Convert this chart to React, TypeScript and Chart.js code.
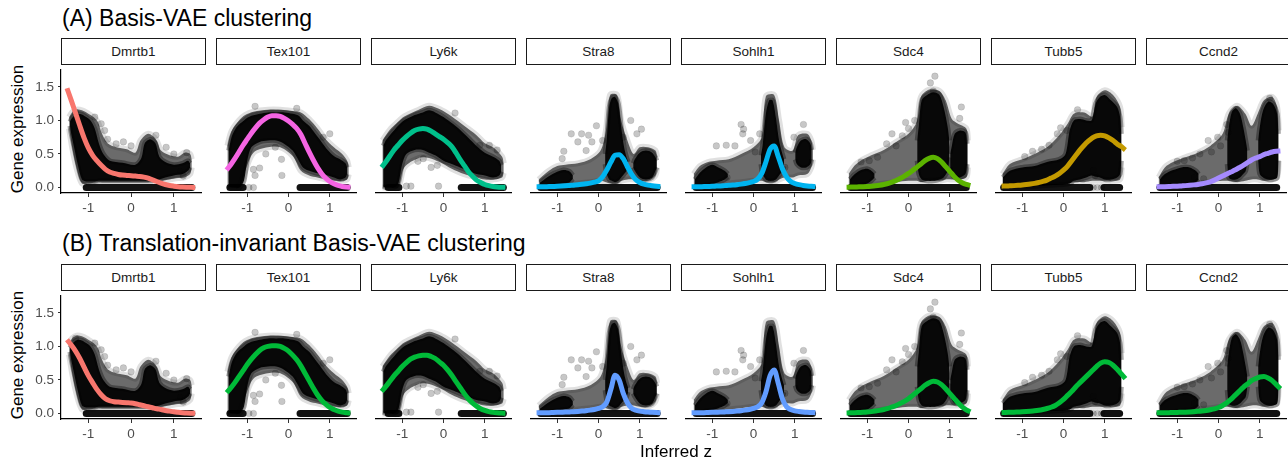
import React, { useEffect, useRef } from 'react';
import { Chart, registerables } from 'chart.js';
Chart.register(...registerables);

type Band = [number, number, number][];
type Pts = [number, number][];

// ---------- shared axes ----------
const GENES = ['Dmrtb1', 'Tex101', 'Ly6k', 'Stra8', 'Sohlh1', 'Sdc4', 'Tubb5', 'Ccnd2'];
const ROW_TITLES = ['(A) Basis-VAE clustering', '(B) Translation-invariant Basis-VAE clustering'];
const X_TICKS = [-1, 0, 1];
const X_TICK_LABELS = ['-1', '0', '1'];
const Y_TICKS = [0, 0.5, 1, 1.5];
const Y_TICK_LABELS = ['0.0', '0.5', '1.0', '1.5'];
const X_TITLE = 'Inferred z';
const Y_TITLE = 'Gene expression';

const Z_GRID = [-1.5, -1.4, -1.3, -1.2, -1.1, -1.0, -0.9, -0.8, -0.7, -0.6, -0.5, -0.4, -0.3, -0.2, -0.1, 0, 0.1, 0.2, 0.3, 0.4, 0.5, 0.6, 0.7, 0.8, 0.9, 1.0, 1.1, 1.2, 1.3, 1.4, 1.5];

// ---------- fitted curves, row A ----------
const dmrtb1A = [1.48, 1.30, 1.11, 0.92, 0.74, 0.59, 0.48, 0.40, 0.33, 0.27, 0.23, 0.21, 0.195, 0.185, 0.18, 0.175, 0.17, 0.165, 0.155, 0.14, 0.115, 0.09, 0.065, 0.045, 0.03, 0.02, 0.012, 0.007, 0.004, 0.002, 0.001];
const tex101A = [0.26, 0.34, 0.43, 0.53, 0.63, 0.72, 0.81, 0.89, 0.96, 1.01, 1.05, 1.07, 1.07, 1.06, 1.03, 0.99, 0.94, 0.88, 0.79, 0.66, 0.53, 0.41, 0.30, 0.21, 0.14, 0.09, 0.055, 0.03, 0.015, 0.007, 0.003];
const ly6kA = [0.30, 0.38, 0.47, 0.56, 0.63, 0.70, 0.76, 0.81, 0.85, 0.87, 0.88, 0.87, 0.84, 0.80, 0.76, 0.72, 0.67, 0.61, 0.52, 0.42, 0.33, 0.24, 0.17, 0.11, 0.075, 0.045, 0.027, 0.015, 0.008, 0.004, 0.002];
const stra8A = [0.01, 0.01, 0.012, 0.014, 0.016, 0.018, 0.021, 0.025, 0.03, 0.035, 0.04, 0.047, 0.055, 0.065, 0.08, 0.10, 0.16, 0.26, 0.38, 0.48, 0.49, 0.43, 0.31, 0.20, 0.12, 0.075, 0.05, 0.035, 0.025, 0.018, 0.013];
const sohlh1A = [0.01, 0.01, 0.012, 0.014, 0.016, 0.018, 0.021, 0.024, 0.028, 0.032, 0.036, 0.042, 0.05, 0.06, 0.073, 0.09, 0.125, 0.21, 0.38, 0.57, 0.62, 0.46, 0.28, 0.16, 0.09, 0.06, 0.042, 0.031, 0.023, 0.017, 0.013];
const sdc4A = [0.005, 0.006, 0.008, 0.01, 0.012, 0.015, 0.02, 0.026, 0.034, 0.045, 0.06, 0.08, 0.105, 0.135, 0.17, 0.21, 0.255, 0.30, 0.35, 0.40, 0.435, 0.45, 0.43, 0.38, 0.31, 0.24, 0.17, 0.11, 0.07, 0.045, 0.03];
const tubb5A = [0.02, 0.022, 0.025, 0.028, 0.032, 0.037, 0.044, 0.052, 0.062, 0.075, 0.09, 0.11, 0.14, 0.17, 0.21, 0.26, 0.32, 0.40, 0.48, 0.56, 0.63, 0.69, 0.74, 0.77, 0.78, 0.77, 0.74, 0.70, 0.65, 0.61, 0.56];
const ccnd2A = [0.01, 0.011, 0.013, 0.015, 0.017, 0.02, 0.024, 0.028, 0.033, 0.039, 0.046, 0.055, 0.068, 0.085, 0.11, 0.14, 0.17, 0.20, 0.23, 0.26, 0.295, 0.33, 0.37, 0.41, 0.44, 0.46, 0.49, 0.51, 0.53, 0.54, 0.545];

// ---------- fitted curves, row B ----------
const dmrtb1B = [1.10, 1.02, 0.93, 0.82, 0.69, 0.565, 0.46, 0.36, 0.28, 0.22, 0.19, 0.175, 0.17, 0.165, 0.16, 0.155, 0.145, 0.13, 0.115, 0.10, 0.085, 0.07, 0.06, 0.045, 0.035, 0.025, 0.018, 0.012, 0.007, 0.004, 0.002];
const tex101B = [0.31, 0.38, 0.46, 0.55, 0.64, 0.73, 0.81, 0.88, 0.94, 0.98, 1.00, 1.01, 1.01, 1.00, 0.97, 0.93, 0.87, 0.80, 0.71, 0.60, 0.49, 0.38, 0.28, 0.20, 0.14, 0.09, 0.06, 0.035, 0.02, 0.012, 0.007];
const ly6kB = [0.33, 0.40, 0.48, 0.56, 0.63, 0.70, 0.76, 0.81, 0.84, 0.86, 0.87, 0.87, 0.85, 0.82, 0.77, 0.72, 0.65, 0.57, 0.48, 0.39, 0.30, 0.22, 0.16, 0.11, 0.07, 0.045, 0.028, 0.017, 0.01, 0.006, 0.004];
const stra8B = [0.01, 0.011, 0.012, 0.013, 0.015, 0.017, 0.019, 0.021, 0.024, 0.027, 0.031, 0.036, 0.042, 0.05, 0.06, 0.075, 0.10, 0.17, 0.36, 0.57, 0.50, 0.30, 0.16, 0.08, 0.05, 0.035, 0.027, 0.021, 0.017, 0.014, 0.012];
const sohlh1B = [0.01, 0.011, 0.012, 0.013, 0.015, 0.017, 0.019, 0.021, 0.024, 0.027, 0.031, 0.036, 0.042, 0.05, 0.06, 0.075, 0.10, 0.16, 0.32, 0.56, 0.65, 0.45, 0.22, 0.10, 0.06, 0.04, 0.03, 0.023, 0.018, 0.015, 0.012];
const sdc4B = [0.008, 0.01, 0.012, 0.015, 0.018, 0.022, 0.028, 0.036, 0.046, 0.06, 0.077, 0.098, 0.12, 0.15, 0.18, 0.22, 0.27, 0.32, 0.37, 0.42, 0.46, 0.48, 0.47, 0.43, 0.37, 0.30, 0.23, 0.16, 0.10, 0.055, 0.025];
const tubb5B = [0.015, 0.016, 0.018, 0.02, 0.023, 0.026, 0.03, 0.035, 0.041, 0.049, 0.06, 0.074, 0.093, 0.12, 0.16, 0.21, 0.27, 0.33, 0.40, 0.46, 0.52, 0.58, 0.64, 0.70, 0.75, 0.77, 0.76, 0.72, 0.66, 0.59, 0.52];
const ccnd2B = [0.01, 0.011, 0.012, 0.013, 0.014, 0.016, 0.018, 0.02, 0.023, 0.027, 0.032, 0.038, 0.046, 0.057, 0.07, 0.09, 0.12, 0.16, 0.21, 0.27, 0.33, 0.39, 0.44, 0.49, 0.52, 0.545, 0.55, 0.53, 0.49, 0.43, 0.37];

const COLORS_A = ['#F8766D', '#F564E3', '#00C08B', '#00B4F0', '#00B4F0', '#5BB300', '#C49A00', '#A58AFF'];
const COLORS_B = ['#F8766D', '#00BA38', '#00BA38', '#619CFF', '#619CFF', '#00BA38', '#00BA38', '#00BA38'];

// ---------- observed expression clouds: [z, lower, upper] envelopes ----------
const dmrtb1Outer: Band = [[-1.45, 0.88, 1.05], [-1.38, 0.6, 1.12], [-1.28, 0.3, 1.16], [-1.15, 0.06, 1.15], [-1.0, 0.06, 1.1], [-0.88, 0.07, 1.05], [-0.78, 0.08, 0.98], [-0.68, 0.08, 0.8], [-0.55, 0.08, 0.66], [-0.35, 0.08, 0.6], [-0.1, 0.08, 0.57], [0.1, 0.08, 0.52], [0.22, 0.08, 0.7], [0.4, 0.08, 0.8], [0.58, 0.1, 0.72], [0.7, 0.1, 0.55], [0.9, 0.12, 0.48], [1.1, 0.14, 0.46], [1.25, 0.15, 0.52], [1.38, 0.2, 0.5], [1.42, 0.3, 0.42]];
const dmrtb1Core: Band[] = [
  [[-1.43, 0.92, 0.98], [-1.4, 0.8, 1.02], [-1.35, 0.65, 1.06], [-1.25, 0.35, 1.1], [-1.15, 0.12, 1.09], [-1.05, 0.09, 1.05], [-0.95, 0.09, 1.0], [-0.85, 0.09, 0.88], [-0.75, 0.1, 0.65], [-0.65, 0.1, 0.5], [-0.5, 0.1, 0.4], [-0.2, 0.1, 0.37], [0.1, 0.1, 0.34], [0.24, 0.1, 0.44], [0.32, 0.1, 0.66], [0.45, 0.1, 0.72], [0.57, 0.11, 0.66], [0.66, 0.12, 0.46], [0.8, 0.15, 0.38], [1.0, 0.18, 0.34], [1.2, 0.2, 0.36], [1.33, 0.25, 0.4], [1.38, 0.3, 0.36]],
];
const dmrtb1Pts: Pts = [[-0.7, 0.95], [-0.62, 0.85], [-0.55, 0.72], [-0.35, 0.65], [-0.18, 0.68], [0.0, 0.62], [0.82, 0.6], [1.0, 0.5], [1.3, 0.52], [1.15, 0.24], [1.22, 0.17], [-0.85, 1.05], [0.58, 0.78], [-1.3, 1.12]];
const dmrtb1Zero: Pts = [[-1.05, 1.42]];

const tex101Outer: Band = [[-1.48, 0.0, 0.62], [-1.38, 0.0, 0.84], [-1.2, 0.0, 1.0], [-1.05, 0.25, 1.08], [-0.85, 0.52, 1.13], [-0.5, 0.6, 1.16], [-0.2, 0.6, 1.16], [0.1, 0.47, 1.14], [0.3, 0.25, 1.12], [0.5, 0.18, 1.02], [0.7, 0.15, 0.88], [0.9, 0.12, 0.72], [1.1, 0.1, 0.6], [1.3, 0.1, 0.5], [1.42, 0.12, 0.4], [1.46, 0.2, 0.3]];
const tex101Core: Band[] = [
  [[-1.45, 0.02, 0.55], [-1.38, 0.0, 0.75], [-1.28, 0.0, 0.88], [-1.18, 0.0, 0.95], [-1.08, 0.1, 1.0], [-1.0, 0.4, 1.04], [-0.9, 0.6, 1.07], [-0.7, 0.68, 1.1], [-0.5, 0.7, 1.12], [-0.3, 0.7, 1.12], [-0.1, 0.65, 1.12], [0.1, 0.55, 1.1], [0.25, 0.4, 1.07], [0.35, 0.3, 1.0], [0.5, 0.25, 0.92], [0.65, 0.22, 0.8], [0.8, 0.2, 0.68], [0.95, 0.18, 0.56], [1.1, 0.15, 0.47], [1.25, 0.12, 0.42], [1.38, 0.15, 0.36], [1.42, 0.2, 0.3]],
];
const tex101Pts: Pts = [[-0.81, 1.21], [-0.17, 0.42], [-0.16, 0.18], [-0.7, 0.29], [-0.85, 0.27], [-0.81, 0.18], [-0.96, 0.0], [-0.85, 0.0], [1.0, 0.8], [0.84, 0.75], [-0.32, 0.6], [-0.55, 0.5], [0.2, 1.18]];
const tex101Zero: Pts = [[-1.42, -1.1], [0.28, 1.42]];

const ly6kOuter: Band = [[-1.48, 0.0, 0.7], [-1.3, 0.0, 0.86], [-1.1, 0.0, 0.98], [-0.95, 0.3, 1.06], [-0.6, 0.44, 1.16], [-0.35, 0.44, 1.22], [-0.1, 0.38, 1.17], [0.2, 0.28, 1.06], [0.5, 0.2, 0.92], [0.8, 0.15, 0.78], [1.0, 0.12, 0.66], [1.2, 0.12, 0.6], [1.42, 0.15, 0.46], [1.46, 0.22, 0.36]];
const ly6kCore: Band[] = [
  [[-1.46, 0.02, 0.62], [-1.4, 0.0, 0.7], [-1.3, 0.0, 0.78], [-1.2, 0.0, 0.85], [-1.1, 0.05, 0.92], [-1.0, 0.35, 0.98], [-0.9, 0.5, 1.02], [-0.7, 0.56, 1.08], [-0.5, 0.56, 1.12], [-0.35, 0.52, 1.15], [-0.2, 0.48, 1.12], [0.0, 0.4, 1.05], [0.2, 0.35, 0.96], [0.4, 0.3, 0.86], [0.6, 0.25, 0.74], [0.8, 0.2, 0.62], [1.0, 0.18, 0.52], [1.2, 0.15, 0.46], [1.35, 0.18, 0.4], [1.4, 0.24, 0.33]],
];
const ly6kPts: Pts = [[-0.62, 0.39], [-0.49, 0.43], [-0.15, 0.33], [-0.12, 0.02], [-0.9, 0.02], [-0.79, 0.02], [0.28, 1.11], [1.11, 0.63], [0.88, 0.63], [1.3, 0.56], [-0.3, 0.3]];
const ly6kZero: Pts = [[-1.34, -1.08], [0.43, 1.45]];

const stra8Outer: Band = [[-1.45, 0.0, 0.12], [-1.2, 0.0, 0.25], [-1.0, 0.02, 0.32], [-0.8, 0.04, 0.34], [-0.5, 0.06, 0.36], [-0.2, 0.08, 0.42], [0.05, 0.1, 0.55], [0.18, 0.08, 0.85], [0.28, 0.06, 1.38], [0.45, 0.06, 1.38], [0.55, 0.1, 1.0], [0.7, 0.12, 0.7], [0.85, 0.12, 0.5], [1.0, 0.1, 0.6], [1.2, 0.1, 0.6], [1.38, 0.18, 0.55], [1.42, 0.3, 0.45]];
const stra8Core: Band[] = [
  [[-1.42, 0.02, 0.07], [-1.25, 0.02, 0.15], [-1.05, 0.04, 0.22], [-0.85, 0.06, 0.26], [-0.7, 0.08, 0.24], [-0.62, 0.13, 0.18]],
  [[0.16, 0.35, 0.5], [0.2, 0.2, 0.72], [0.26, 0.12, 1.2], [0.32, 0.1, 1.33], [0.4, 0.08, 1.35], [0.48, 0.1, 1.25], [0.55, 0.15, 0.9], [0.62, 0.2, 0.6], [0.68, 0.25, 0.45], [0.72, 0.32, 0.38]],
  [[0.84, 0.3, 0.36], [0.88, 0.25, 0.42], [1.0, 0.15, 0.52], [1.15, 0.12, 0.55], [1.3, 0.15, 0.52], [1.38, 0.25, 0.45], [1.41, 0.3, 0.4]],
];
const stra8Pts: Pts = [[-0.66, 0.8], [-0.41, 0.8], [-0.24, 0.78], [-0.05, 0.92], [-0.16, 0.68], [-0.5, 0.68], [-0.84, 0.54], [-0.88, 0.43], [0.1, 0.7], [0.78, 1.0], [1.04, 0.87], [0.93, 0.8], [0.6, 0.75], [-0.3, 0.55]];
const stra8Zero: Pts = [[-1.4, 1.42]];

const sohlh1Outer: Band = [[-1.45, 0.0, 0.2], [-1.3, 0.0, 0.32], [-1.1, 0.02, 0.38], [-0.9, 0.04, 0.4], [-0.6, 0.06, 0.42], [-0.3, 0.08, 0.5], [0.0, 0.1, 0.6], [0.2, 0.1, 0.75], [0.3, 0.08, 1.36], [0.5, 0.08, 1.38], [0.62, 0.12, 1.0], [0.75, 0.15, 0.6], [0.95, 0.15, 0.55], [1.08, 0.18, 0.78], [1.3, 0.2, 0.8], [1.4, 0.3, 0.7], [1.44, 0.42, 0.56]];
const sohlh1Core: Band[] = [
  [[-1.42, 0.02, 0.12], [-1.3, 0.02, 0.22], [-1.15, 0.04, 0.3], [-1.0, 0.05, 0.34], [-0.85, 0.08, 0.3], [-0.7, 0.12, 0.25], [-0.62, 0.16, 0.2]],
  [[0.18, 0.35, 0.48], [0.22, 0.2, 0.62], [0.3, 0.12, 1.1], [0.38, 0.1, 1.3], [0.46, 0.1, 1.3], [0.54, 0.12, 1.05], [0.62, 0.18, 0.7], [0.7, 0.25, 0.5], [0.74, 0.32, 0.42]],
  [[1.01, 0.42, 0.52], [1.05, 0.35, 0.6], [1.15, 0.3, 0.7], [1.28, 0.3, 0.72], [1.38, 0.35, 0.65], [1.41, 0.42, 0.56]],
];
const sohlh1Pts: Pts = [[-0.3, 0.94], [-0.24, 0.87], [-0.26, 0.8], [-0.66, 0.63], [-0.45, 0.62], [-0.07, 0.7], [0.15, 0.8], [1.21, 0.94], [0.04, 0.53], [0.98, 0.75], [-0.64, 0.15], [0.76, 0.3], [-0.9, 0.62]];
const sohlh1Zero: Pts = [[-1.39, 1.43]];

const sdc4Outer: Band = [[-1.45, 0.0, 0.2], [-1.3, 0.0, 0.33], [-1.1, 0.02, 0.42], [-0.9, 0.04, 0.48], [-0.6, 0.06, 0.56], [-0.3, 0.08, 0.68], [0.0, 0.1, 0.8], [0.2, 0.1, 0.98], [0.3, 0.08, 1.35], [0.5, 0.1, 1.46], [0.75, 0.1, 1.44], [0.9, 0.12, 1.3], [1.05, 0.12, 1.02], [1.2, 0.12, 0.95], [1.4, 0.15, 0.88], [1.44, 0.3, 0.7]];
const sdc4Core: Band[] = [
  [[-1.42, 0.02, 0.12], [-1.3, 0.02, 0.2], [-1.15, 0.04, 0.26], [-1.0, 0.06, 0.28], [-0.9, 0.1, 0.25], [-0.82, 0.15, 0.2]],
  [[0.21, 0.4, 0.7], [0.25, 0.2, 0.92], [0.32, 0.12, 1.3], [0.45, 0.1, 1.38], [0.6, 0.1, 1.42], [0.75, 0.12, 1.38], [0.85, 0.15, 1.2], [0.95, 0.25, 0.9], [0.99, 0.45, 0.7]],
  [[1.01, 0.3, 0.5], [1.05, 0.2, 0.62], [1.12, 0.15, 0.8], [1.25, 0.15, 0.85], [1.38, 0.2, 0.82], [1.42, 0.35, 0.65]],
];
const sdc4Pts: Pts = [[0.64, 1.66], [0.53, 1.56], [0.6, 1.44], [1.28, 1.2], [1.24, 1.03], [-0.53, 0.65], [-0.15, 0.77], [-0.07, 0.97], [-0.4, 0.8], [0.0, 0.88], [-0.75, 0.45], [-0.95, 0.4], [-0.3, 0.62], [0.15, 1.0], [-1.15, 0.38]];
const sdc4Zero: Pts = [[-1.4, 1.4]];

const tubb5Outer: Band = [[-1.48, 0.0, 0.2], [-1.3, 0.0, 0.35], [-1.0, 0.0, 0.42], [-0.7, 0.02, 0.5], [-0.4, 0.04, 0.6], [-0.1, 0.05, 0.78], [0.1, 0.06, 0.95], [0.25, 0.08, 1.1], [0.5, 0.08, 1.12], [0.7, 0.1, 1.06], [0.8, 0.1, 1.35], [1.0, 0.1, 1.45], [1.2, 0.1, 1.38], [1.37, 0.12, 1.2], [1.41, 0.3, 0.9]];
const tubb5Core: Band[] = [
  [[-1.47, 0.02, 0.15], [-1.3, 0.02, 0.25], [-1.0, 0.02, 0.3], [-0.7, 0.02, 0.32], [-0.4, 0.03, 0.38], [-0.1, 0.04, 0.42], [0.05, 0.05, 0.5], [0.15, 0.06, 0.85], [0.25, 0.1, 1.0], [0.4, 0.12, 1.02], [0.55, 0.15, 1.0], [0.68, 0.18, 1.0], [0.78, 0.16, 1.25], [0.88, 0.15, 1.35], [1.0, 0.12, 1.38], [1.15, 0.12, 1.3], [1.3, 0.15, 1.2], [1.37, 0.2, 1.05], [1.4, 0.4, 0.8]],
];
const tubb5Pts: Pts = [[0.34, 1.16], [-0.07, 0.89], [0.08, 0.85], [-0.15, 0.8], [-0.75, 0.54], [-0.53, 0.57], [-0.94, 0.46], [0.72, 0.26], [0.77, 0.18], [-0.35, 0.63], [0.72, 0.0], [0.82, 0.0], [0.92, 0.0]];
const tubb5Zero: Pts = [[-1.45, 0.64], [0.98, 1.36]];

const ccnd2Outer: Band = [[-1.45, 0.0, 0.15], [-1.3, 0.0, 0.3], [-1.1, 0.02, 0.38], [-0.8, 0.04, 0.45], [-0.5, 0.06, 0.52], [-0.2, 0.08, 0.62], [0.1, 0.1, 0.8], [0.25, 0.1, 1.1], [0.45, 0.08, 1.22], [0.65, 0.1, 1.1], [0.8, 0.12, 0.92], [0.95, 0.12, 1.1], [1.1, 0.1, 1.3], [1.3, 0.12, 1.35], [1.42, 0.15, 1.2], [1.46, 0.4, 0.85]];
const ccnd2Core: Band[] = [
  [[-1.42, 0.02, 0.12], [-1.3, 0.02, 0.2], [-1.1, 0.02, 0.26], [-0.9, 0.04, 0.3], [-0.7, 0.05, 0.3], [-0.55, 0.08, 0.25], [-0.48, 0.12, 0.2]],
  [[0.21, 0.35, 0.7], [0.25, 0.15, 0.9], [0.32, 0.12, 1.12], [0.42, 0.12, 1.18], [0.52, 0.15, 1.1], [0.6, 0.2, 0.9], [0.66, 0.25, 0.7], [0.7, 0.4, 0.55]],
  [[0.96, 0.4, 0.7], [1.0, 0.2, 0.9], [1.08, 0.15, 1.15], [1.2, 0.12, 1.28], [1.32, 0.12, 1.25], [1.42, 0.15, 1.1], [1.45, 0.4, 0.8]],
];
const ccnd2Pts: Pts = [[-1.0, 0.39], [-0.83, 0.4], [-0.63, 0.44], [-0.25, 0.7], [-0.02, 0.75], [0.2, 0.94], [0.24, 0.82], [-0.17, 0.53], [-0.36, 0.13], [-0.59, 0.15], [1.24, 1.33], [0.05, 0.62], [-0.45, 0.5]];
const ccnd2Zero: Pts = [[-1.42, 1.41]];

const CURVES = [
  [dmrtb1A, tex101A, ly6kA, stra8A, sohlh1A, sdc4A, tubb5A, ccnd2A],
  [dmrtb1B, tex101B, ly6kB, stra8B, sohlh1B, sdc4B, tubb5B, ccnd2B],
];
const ROW_COLORS = [COLORS_A, COLORS_B];
const OUTERS = [dmrtb1Outer, tex101Outer, ly6kOuter, stra8Outer, sohlh1Outer, sdc4Outer, tubb5Outer, ccnd2Outer];
const CORES = [dmrtb1Core, tex101Core, ly6kCore, stra8Core, sohlh1Core, sdc4Core, tubb5Core, ccnd2Core];
const POINTS = [dmrtb1Pts, tex101Pts, ly6kPts, stra8Pts, sohlh1Pts, sdc4Pts, tubb5Pts, ccnd2Pts];
const ZEROS = [dmrtb1Zero, tex101Zero, ly6kZero, stra8Zero, sohlh1Zero, sdc4Zero, tubb5Zero, ccnd2Zero];

// ---------- layout ----------
const FONT = '"Liberation Sans", Arial, Helvetica, sans-serif';
const X_MIN = -1.64, X_MAX = 1.64, Y_MIN = -0.082, Y_MAX = 1.755;
const ROW_TOP = [65, 291];
const STRIP_TOP = [37.5, 264];
const STRIP_H = 27;
const PANEL_H = 128;
const AXIS_H = 30;
const PANEL_W = 145;
const Y_AXIS_W = 61;
const panelLeft = (i: number) => Math.round(61.2 + 154.9 * i);

function Panel({ row, col }: { row: number; col: number }) {
  const ref = useRef<HTMLCanvasElement>(null);
  const first = col === 0;
  const width = first ? Y_AXIS_W + PANEL_W : PANEL_W;
  const height = PANEL_H + AXIS_H;
  useEffect(() => {
    const datasets: any[] = [];
    const addBand = (band: Band, fillColor: string, edge: string, edgeW: number, order: number) => {
      datasets.push({ data: band.map((b) => ({ x: b[0], y: b[1] })), borderColor: edge, borderWidth: edgeW, pointRadius: 0, fill: false, tension: 0.3, order });
      datasets.push({ data: band.map((b) => ({ x: b[0], y: b[2] })), borderColor: edge, borderWidth: edgeW, pointRadius: 0, fill: '-1', backgroundColor: fillColor, tension: 0.3, order });
    };
    ZEROS[col].forEach((seg) => {
      datasets.push({ data: [{ x: seg[0], y: 0 }, { x: seg[1], y: 0 }], borderColor: 'rgba(0,0,0,0.93)', borderWidth: 7, borderCapStyle: 'round', pointRadius: 0, fill: false, order: 5 });
    });
    addBand(OUTERS[col], 'rgba(0,0,0,0.58)', 'rgba(0,0,0,0.12)', 6, 4);
    CORES[col].forEach((b) => addBand(b, 'rgba(0,0,0,0.93)', 'rgba(0,0,0,0.35)', 5, 3));
    datasets.push({ data: POINTS[col].map((p) => ({ x: p[0], y: p[1] })), showLine: false, pointRadius: 3.3, pointBackgroundColor: 'rgba(0,0,0,0.22)', pointBorderColor: 'rgba(0,0,0,0.12)', pointBorderWidth: 0.8, order: 2 });
    datasets.push({ data: Z_GRID.map((z, i) => ({ x: z, y: CURVES[row][col][i] })), borderColor: ROW_COLORS[row][col], borderWidth: 5, pointRadius: 0, cubicInterpolationMode: 'monotone', fill: false, borderCapStyle: 'butt', order: 0 });

    const tickFont = { family: FONT, size: 13.5 };
    const chart = new Chart(ref.current!, {
      type: 'line',
      data: { datasets },
      options: {
        responsive: false,
        animation: false,
        devicePixelRatio: 1,
        layout: { padding: 0 },
        plugins: { legend: { display: false }, tooltip: { enabled: false }, title: { display: false } },
        events: [],
        scales: {
          x: {
            type: 'linear', min: X_MIN, max: X_MAX,
            afterBuildTicks: (s: any) => { s.ticks = X_TICKS.map((v) => ({ value: v })); },
            afterFit: (s: any) => { s.height = AXIS_H; s.paddingLeft = 0; s.paddingRight = 0; },
            ticks: { callback: (_v: any, i: number) => X_TICK_LABELS[i], color: '#4d4d4d', font: tickFont, padding: 3, maxRotation: 0, autoSkip: false },
            grid: { display: true, drawOnChartArea: false, drawTicks: true, tickLength: 4, color: '#333333', lineWidth: 1 },
            border: { display: true, color: '#000000', width: 1.2 },
          },
          y: first ? {
            type: 'linear', min: Y_MIN, max: Y_MAX,
            afterBuildTicks: (s: any) => { s.ticks = Y_TICKS.map((v) => ({ value: v })); },
            afterFit: (s: any) => { s.width = Y_AXIS_W; s.paddingTop = 0; s.paddingBottom = 0; },
            ticks: { callback: (_v: any, i: number) => Y_TICK_LABELS[i], color: '#4d4d4d', font: tickFont, padding: 4, autoSkip: false },
            grid: { display: true, drawOnChartArea: false, drawTicks: true, tickLength: 3, color: '#333333', lineWidth: 1 },
            border: { display: true, color: '#000000', width: 1.2 },
          } : { type: 'linear', min: Y_MIN, max: Y_MAX, display: false },
        },
      } as any,
    });
    return () => chart.destroy();
  }, [row, col]);
  const left = first ? 0 : panelLeft(col);
  return <canvas ref={ref} width={width} height={height} style={{ position: 'absolute', left, top: ROW_TOP[row], width, height }} />;
}

export default function App() {
  const rows = [0, 1];
  return (
    <div style={{ position: 'absolute', left: 0, top: 0, width: 1288, height: 460, background: '#fff', overflow: 'hidden', fontFamily: FONT }}>
      {rows.map((r) => (
        <React.Fragment key={r}>
          <div style={{ position: 'absolute', left: 62, top: r === 0 ? 4 : 229, fontSize: 23, lineHeight: '28px', color: '#000', whiteSpace: 'nowrap' }}>{ROW_TITLES[r]}</div>
          <div style={{ position: 'absolute', left: 18, top: r === 0 ? 129 : 355, transform: 'translate(-50%, -50%) rotate(-90deg)', fontSize: 17, lineHeight: '20px', color: '#000', whiteSpace: 'nowrap' }}>{Y_TITLE}</div>
          {GENES.map((g, c) => (
            <div key={g} style={{ position: 'absolute', left: panelLeft(c), top: STRIP_TOP[r], width: PANEL_W, height: STRIP_H, boxSizing: 'border-box', border: '1.3px solid #1a1a1a', display: 'flex', alignItems: 'center', justifyContent: 'center', fontSize: 13.5, color: '#1a1a1a' }}>{g}</div>
          ))}
          {GENES.map((g, c) => <Panel key={g + r} row={r} col={c} />)}
        </React.Fragment>
      ))}
      <div style={{ position: 'absolute', left: 676, top: 452, transform: 'translate(-50%, -50%)', fontSize: 17, lineHeight: '20px', color: '#000', whiteSpace: 'nowrap' }}>{X_TITLE}</div>
    </div>
  );
}
